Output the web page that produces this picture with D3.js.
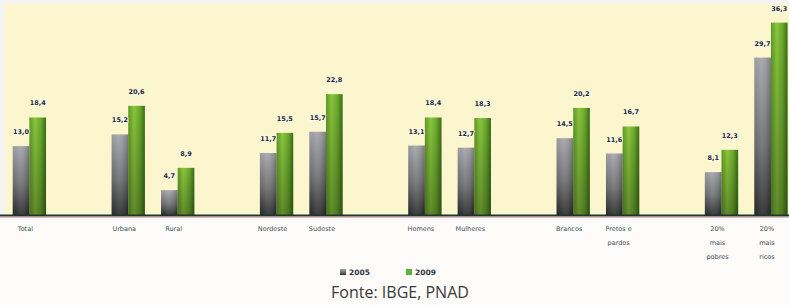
<!DOCTYPE html>
<html>
<head>
<meta charset="utf-8">
<script src="https://cdn.jsdelivr.net/npm/d3@7"></script>
<style>
	body { margin: 0; background: #ffffff; }
	svg { display: block; }
	.barlabel { font-family: "DejaVu Sans", sans-serif; font-weight: bold; font-size: 6.5px; fill: #1c2838; }
	.catlabel { font-family: "DejaVu Sans", sans-serif; font-size: 6.5px; fill: #3e4c5c; }
	.legtext { font-family: "DejaVu Sans", sans-serif; font-weight: bold; font-size: 7.5px; fill: #2a3646; }
	.source { font-family: "Open Sans", sans-serif; font-size: 16px; fill: #3a3a3a; }
</style>
</head>
<body>
<svg id="chart" width="789" height="305"></svg>
<script>
// categories, grouped (a blank slot is left between groups)
var groups = [
	["Total"],
	["Urbana", "Rural"],
	["Nordeste", "Sudeste"],
	["Homens", "Mulheres"],
	["Brancos", "Pretos e pardos"],
	["20% mais pobres", "20% mais ricos"]
];
// label lines under each category
var tickLines = {
	"Total": ["Total"],
	"Urbana": ["Urbana"],
	"Rural": ["Rural"],
	"Nordeste": ["Nordeste"],
	"Sudeste": ["Sudeste"],
	"Homens": ["Homens"],
	"Mulheres": ["Mulheres"],
	"Brancos": ["Brancos"],
	"Pretos e pardos": ["Pretos e", "pardos"],
	"20% mais pobres": ["20%", "mais", "pobres"],
	"20% mais ricos": ["20%", "mais", "ricos"]
};
var seriesNames = ["2005", "2009"];
var values2005 = [13.0, 15.2, 4.7, 11.7, 15.7, 13.1, 12.7, 14.5, 11.6, 8.1, 29.7];
var values2009 = [18.4, 20.6, 8.9, 15.5, 22.8, 18.4, 18.3, 20.2, 16.7, 12.3, 36.3];

function drawChart() {
	var svg = d3.select("#chart");
	var W = 789, H = 305;
	var baseY = 215, topY = 3;

	// build slot list, spacer between groups
	var slots = [];
	var categories = [];
	groups.forEach(function(g, gi) {
		if (gi > 0) slots.push("__gap" + gi);
		g.forEach(function(c) { slots.push(c); categories.push(c); });
	});

	var data = categories.map(function(c, i) {
		return { cat: c, vals: [
			{ s: "2005", v: values2005[i] },
			{ s: "2009", v: values2009[i] }
		]};
	});

	var x = d3.scaleBand()
		.domain(slots)
		.range([12.7, 787.6])
		.paddingInner(0.326)
		.paddingOuter(0);

	var xs = d3.scaleBand()
		.domain(seriesNames)
		.range([0, x.bandwidth()])
		.padding(0);

	var y = d3.scaleLinear()
		.domain([0, 40])
		.range([baseY, topY]);

	var defs = svg.append("defs");
	var gGray = defs.append("linearGradient").attr("id", "gGray")
		.attr("x1", 0).attr("y1", 0).attr("x2", 0).attr("y2", 1);
	gGray.append("stop").attr("offset", "0%").attr("stop-color", "#a4a5aa");
	gGray.append("stop").attr("offset", "55%").attr("stop-color", "#6e6f72");
	gGray.append("stop").attr("offset", "100%").attr("stop-color", "#2a2a2c");
	var gGrayH = defs.append("linearGradient").attr("id", "gGrayH")
		.attr("x1", 0).attr("y1", 0).attr("x2", 1).attr("y2", 0);
	gGrayH.append("stop").attr("offset", "0%").attr("stop-color", "#000").attr("stop-opacity", 0.05);
	gGrayH.append("stop").attr("offset", "40%").attr("stop-color", "#fff").attr("stop-opacity", 0.08);
	gGrayH.append("stop").attr("offset", "100%").attr("stop-color", "#000").attr("stop-opacity", 0.25);

	var gGreen = defs.append("linearGradient").attr("id", "gGreen")
		.attr("x1", 0).attr("y1", 0).attr("x2", 1).attr("y2", 0);
	gGreen.append("stop").attr("offset", "0%").attr("stop-color", "#5f9a26");
	gGreen.append("stop").attr("offset", "35%").attr("stop-color", "#8cc63e");
	gGreen.append("stop").attr("offset", "70%").attr("stop-color", "#6aa92c");
	gGreen.append("stop").attr("offset", "100%").attr("stop-color", "#3b6e18");
	var gShade = defs.append("linearGradient").attr("id", "gShade")
		.attr("x1", 0).attr("y1", 0).attr("x2", 0).attr("y2", 1);
	gShade.append("stop").attr("offset", "0%").attr("stop-color", "#000").attr("stop-opacity", 0);
	gShade.append("stop").attr("offset", "100%").attr("stop-color", "#000").attr("stop-opacity", 0.3);

	// backgrounds
	svg.append("rect").attr("width", W).attr("height", H).attr("fill", "#fefcfb");
	svg.append("rect").attr("x", 0).attr("y", 0).attr("width", W).attr("height", baseY)
		.attr("fill", "#f3f3f1");
	svg.append("rect").attr("x", 5).attr("y", 4).attr("width", W - 5).attr("height", baseY - 4)
		.attr("fill", "#fbf6cd");

	// bars
	var grp = svg.selectAll(".grp")
		.data(data)
	  .enter()
		.append("g")
		.attr("class", "grp")
		.attr("transform", function(d) { return "translate(" + x(d.cat) + ",0)"; });

	grp.selectAll("rect.bar")
		.data(function(d) { return d.vals; })
	  .enter()
		.append("rect")
		.attr("class", "bar")
		.attr("x", function(d) { return xs(d.s); })
		.attr("y", function(d) { return y(d.v); })
		.attr("width", xs.bandwidth())
		.attr("height", function(d) { return baseY - y(d.v); })
		.attr("fill", function(d) { return d.s === "2005" ? "url(#gGray)" : "url(#gGreen)"; });

	grp.selectAll("rect.shade")
		.data(function(d) { return d.vals; })
	  .enter()
		.append("rect")
		.attr("class", "shade")
		.attr("x", function(d) { return xs(d.s); })
		.attr("y", function(d) { return y(d.v); })
		.attr("width", xs.bandwidth())
		.attr("height", function(d) { return baseY - y(d.v); })
		.attr("fill", function(d) { return d.s === "2005" ? "url(#gGrayH)" : "url(#gShade)"; });

	// value labels
	grp.selectAll("text.barlabel")
		.data(function(d) { return d.vals; })
	  .enter()
		.append("text")
		.attr("class", "barlabel")
		.attr("x", function(d) { return xs(d.s) + xs.bandwidth() / 2; })
		.attr("y", function(d) { return y(d.v) - 12; })
		.attr("text-anchor", "middle")
		.style("paint-order", "stroke")
		.style("stroke", "#fffbe8")
		.style("stroke-width", "1.5px")
		.text(function(d) { return d3.format(".1f")(d.v).replace(".", ","); });

	// baseline
	svg.append("line").attr("x1", 0).attr("x2", W).attr("y1", baseY + 0.5).attr("y2", baseY + 0.5)
		.attr("stroke", "#1d3334").attr("stroke-width", 2);
	svg.append("line").attr("x1", 0).attr("x2", W).attr("y1", baseY + 2.5).attr("y2", baseY + 2.5)
		.attr("stroke", "#f0b4a8").attr("stroke-width", 1);

	// category labels
	var cl = svg.selectAll(".catlabel")
		.data(categories)
	  .enter()
		.append("text")
		.attr("class", "catlabel")
		.attr("text-anchor", "middle")
		.attr("transform", function(d) { return "translate(" + (x(d) + x.bandwidth() / 2 - 4) + ",231)"; });
	cl.selectAll("tspan")
		.data(function(d) { return tickLines[d]; })
	  .enter()
		.append("tspan")
		.attr("x", 0)
		.attr("y", function(d, i) { return i * 14; })
		.text(function(d) { return d; });

	// legend
	var legColors = { "2005": "url(#gGray)", "2009": "#5db236" };
	var legX = d3.scalePoint().domain(seriesNames).range([340, 406]);
	var leg = svg.selectAll(".legend")
		.data(seriesNames)
	  .enter()
		.append("g")
		.attr("class", "legend")
		.attr("transform", function(d) { return "translate(" + legX(d) + ",269)"; });
	leg.append("rect")
		.attr("width", 6).attr("height", 6)
		.attr("fill", function(d) { return legColors[d]; });
	leg.append("text")
		.attr("class", "legtext")
		.attr("x", 9).attr("y", 6)
		.text(function(d) { return d; });

	// source
	svg.append("text")
		.attr("class", "source")
		.attr("x", 400)
		.attr("y", 298)
		.attr("text-anchor", "middle")
		.text("Fonte: IBGE, PNAD");
}

drawChart();
</script>
</body>
</html>
